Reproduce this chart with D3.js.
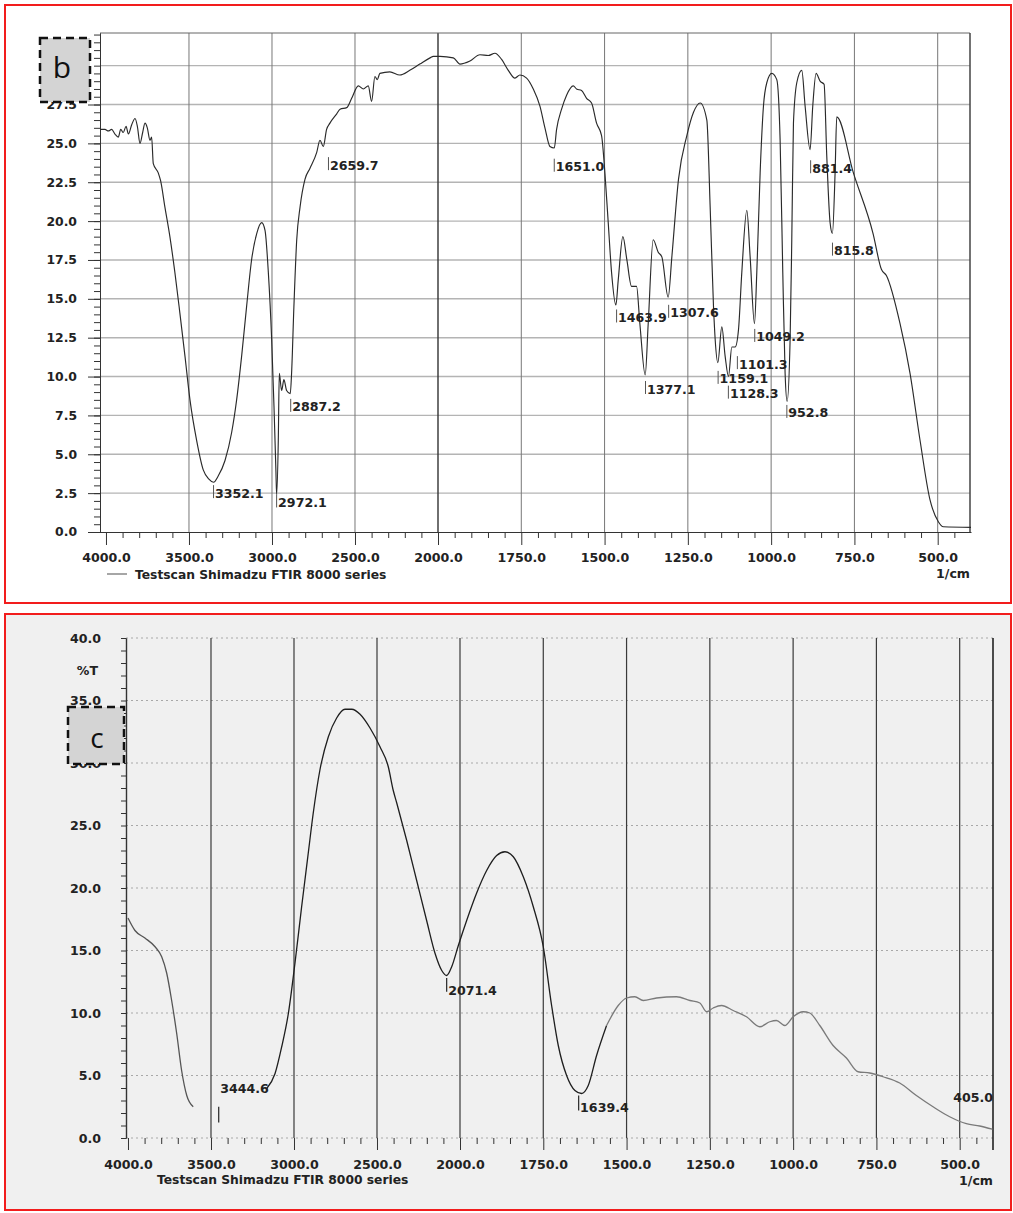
<!DOCTYPE html>
<html>
<head>
<meta charset="utf-8">
<script src="https://cdn.jsdelivr.net/npm/d3@7"></script>
<style>
body { margin: 0; background: #fff; }
svg { display: block; }
.axis text { font-family: "DejaVu Sans", sans-serif; font-weight: bold; fill: #222; }
.axis path, .axis line { stroke: #333; }
.pk { font-family: "DejaVu Sans", sans-serif; font-weight: bold; font-size: 12.6px; fill: #222; }
</style>
</head>
<body>
<svg width="1013" height="1213"></svg>
<script>
var bWn = [4036, 4006, 3986, 3966, 3946, 3926, 3911, 3896, 3879, 3865, 3845, 3825, 3811, 3795, 3779, 3765, 3751, 3735, 3725,
    3715, 3685, 3671, 3645, 3615, 3585, 3555, 3524, 3494, 3454, 3414, 3380, 3352, 3324, 3283, 3243, 3213, 3183, 3153, 3123,
    3092, 3062, 3042, 3022, 3002, 2988, 2976, 2972, 2962, 2956, 2942, 2928, 2912, 2890, 2882, 2868, 2851, 2831, 2801, 2771,
    2731, 2711, 2691, 2671, 2651, 2610, 2590, 2550, 2520, 2480, 2450, 2420, 2400, 2380, 2366, 2350, 2290, 2230, 2170, 2110,
    2048, 2028, 1994, 1954, 1934, 1904, 1874, 1849, 1829, 1809, 1789, 1769, 1754, 1734, 1714, 1694, 1679, 1664, 1651, 1644,
    1629, 1614, 1594, 1584, 1569, 1554, 1539, 1524, 1509, 1499, 1489, 1479, 1466, 1459, 1445, 1433, 1419, 1404, 1394, 1378,
    1369, 1354, 1339, 1328, 1309, 1298, 1278, 1253, 1233, 1213, 1193, 1183, 1173, 1168, 1160, 1148, 1138, 1128, 1118, 1108,
    1098, 1088, 1073, 1063, 1050, 1043, 1033, 1023, 1013, 998, 983, 973, 965, 958, 952, 943, 938, 933, 923, 908, 898, 883,
    875, 865, 853, 841, 833, 823, 816, 808, 803, 753, 694, 669, 654, 613, 583, 553, 523, 498, 483, 400];
var bT = [25.9, 25.9, 25.8, 25.9, 25.6, 25.4, 25.9, 25.7, 26.1, 25.6, 26.2, 26.6, 26.1, 25.0, 25.7, 26.3, 26.0, 25.2, 25.4,
    23.7, 23.1, 22.6, 20.9, 19.0, 16.7, 14.1, 11.3, 8.5, 5.9, 4.0, 3.4, 3.2, 3.6, 4.6, 6.4, 8.5, 11.3, 14.5, 17.5,
    19.2, 19.9, 19.4, 16.7, 12.4, 8.1, 3.8, 2.4, 5.9, 10.2, 9.1, 9.8, 9.1, 8.9, 10.2, 14.5, 18.8, 20.9, 22.7, 23.4,
    24.4, 25.2, 24.8, 25.9, 26.3, 26.9, 27.2, 27.3, 27.9, 28.7, 28.5, 28.7, 27.7, 29.3, 29.1, 29.5, 29.6, 29.4, 29.7, 30.1,
    30.5, 30.6, 30.6, 30.5, 30.1, 30.3, 30.7, 30.65, 30.8, 30.4, 29.7, 29.2, 29.4, 29.2, 28.5, 27.4, 26.0, 24.8, 24.7, 25.9,
    27.2, 28.1, 28.7, 28.5, 28.4, 27.9, 27.6, 26.3, 25.5, 23.1, 19.9, 16.7, 14.6, 16.2, 19.0, 17.5, 15.8, 15.8, 13.4, 10.1,
    13.4, 18.8, 18.0, 17.7, 15.1, 17.7, 22.7, 25.5, 27.0, 27.6, 26.5, 20.9, 14.5, 12.4, 10.9, 13.2, 11.3, 10.0, 11.9, 11.9,
    13.0, 16.7, 20.7, 17.7, 13.4, 16.7, 23.1, 27.4, 28.9, 29.5, 29.1, 25.2, 16.7, 10.2, 8.4, 12.4, 18.8, 26.3, 28.9, 29.7, 27.4, 24.6,
    27.4, 29.5, 29.0, 28.8, 24.2, 19.9, 19.2, 23.1, 26.7, 23.1, 19.2, 16.9, 16.5, 13.4, 10.2, 5.9, 2.06, 0.66, 0.34, 0.3];

// pics annotés du spectre b et niveau (%T) de leur étiquette
var bPeakWn = [3352.1, 2972.1, 2887.2, 2659.7, 1651.0, 1463.9, 1377.1, 1307.6, 1159.1, 1128.3, 1101.3, 1049.2, 952.8, 881.4, 815.8];
var bPeakLab = [2.5, 1.9, 8.05, 23.6, 23.5, 13.8, 9.2, 14.1, 9.85, 8.9, 10.8, 12.55, 7.66, 23.4, 18.1];

var cWn = [4000, 3958, 3898, 3837, 3797, 3767, 3737, 3707, 3677, 3646, 3607, 3400,
    3164, 3114, 3074, 3034, 2994, 2954, 2914, 2884, 2843, 2793, 2743, 2693, 2652, 2602, 2542, 2482, 2432, 2402, 2381, 2321,
    2261, 2201, 2151, 2110, 2080, 2050, 2010, 1980, 1950, 1920, 1890, 1865, 1840, 1810, 1780, 1750, 1725, 1705, 1680, 1655,
    1635, 1615, 1590, 1560, 1525, 1500, 1475, 1450, 1410, 1350, 1310, 1280, 1260, 1240, 1215, 1180, 1140, 1100, 1070, 1050,
    1025, 1000, 970, 950, 920, 880, 840, 805, 770, 730, 680, 630, 580, 530, 480, 440, 402];
var cT = [17.6, 16.6, 16.0, 15.3, 14.5, 13.2, 11.0, 8.4, 5.4, 3.4, 2.5, null,
    3.96, 5.16, 7.3, 9.96, 14.0, 18.5, 22.8, 26.0, 29.5, 32.1, 33.6, 34.3, 34.3, 33.9, 32.8, 31.3, 29.7, 27.8, 26.8, 23.8,
    20.6, 17.4, 14.8, 13.4, 13.0, 13.7, 15.4, 17.4, 19.6, 21.4, 22.6, 22.9, 22.5, 20.9, 18.5, 15.3, 10.6, 7.4, 5.0, 3.8,
    3.56, 4.2, 6.6, 9.0, 10.6, 11.2, 11.3, 11.0, 11.2, 11.3, 11.0, 10.8, 10.1, 10.4, 10.6, 10.2, 9.7, 8.9, 9.3, 9.4,
    9.0, 9.7, 10.1, 10.0, 9.0, 7.4, 6.4, 5.3, 5.2, 4.9, 4.4, 3.4, 2.5, 1.7, 1.15, 0.96, 0.7];

// pics annotés du spectre c : niveau de l'étiquette et du trait repère (%T)
var cPeakWn = [3444.6, 2071.4, 1639.4, 405.0];
var cPeakLab = [3.98, 11.8, 2.46, 3.25];
var cTickTop = [2.5, 12.8, 3.4, null];
var cTickBot = [1.25, 11.7, 2.2, null];

// graduations
var xMajor = [4000, 3500, 3000, 2500, 2000, 1750, 1500, 1250, 1000, 750, 500];
var bYMajor = [0, 2.5, 5, 7.5, 10, 12.5, 15, 17.5, 20, 22.5, 25, 27.5];
var bYGrid = [2.5, 5, 7.5, 10, 12.5, 15, 17.5, 20, 22.5, 25, 27.5, 30];
var cYMajor = [0, 5, 10, 15, 20, 25, 30, 35, 40];

var legendTxt = "Testscan Shimadzu FTIR 8000 series";
var fmt = d3.format(".1f");

var svg = d3.select("svg");

function minorX(a) {
    // tous les 100 entre 4000 et 2000, tous les 50 ensuite
    return d3.range(4000, 2000, -100).concat(d3.range(2000, 400, -50)).filter(function(v) {
        return a.indexOf(v) < 0;
    });
}

function zip(w, t) {
    return w.map(function(v, i) { return [v, t[i]]; });
}

/* ------------------- panneau b ------------------- */
svg.append("rect").attr("x", 5).attr("y", 5).attr("width", 1006).attr("height", 598)
    .attr("fill", "#fff").attr("stroke", "#f21d1d").attr("stroke-width", 2);

var xb = d3.scaleLinear().domain([4036, 2000, 400]).range([100, 438, 971]);
var yb = d3.scaleLinear().domain([0, 32.1]).range([532, 33]);
var gb = svg.append("g");

// grille
gb.selectAll(".hg").data(bYGrid).enter().append("line")
    .attr("x1", 100).attr("x2", 970)
    .attr("y1", function(d) { return yb(d); }).attr("y2", function(d) { return yb(d); })
    .attr("stroke", "#b4b4b4").attr("stroke-width", 1.4);
gb.selectAll(".vg").data(xMajor.slice(1)).enter().append("line")
    .attr("x1", function(d) { return xb(d); }).attr("x2", function(d) { return xb(d); })
    .attr("y1", 33).attr("y2", 532)
    .attr("stroke", function(d) { return d === 2000 ? "#333" : "#777"; })
    .attr("stroke-width", function(d) { return d === 2000 ? 1.4 : 1; });
gb.append("line").attr("x1", 100).attr("x2", 970).attr("y1", 33).attr("y2", 33).attr("stroke", "#666");
gb.append("line").attr("x1", 970).attr("x2", 970).attr("y1", 33).attr("y2", 532).attr("stroke", "#444").attr("stroke-width", 1.5);

// axes
gb.append("g").attr("class", "axis").attr("transform", "translate(0,532)")
    .call(d3.axisBottom(xb).tickValues(minorX(xMajor)).tickSize(6).tickSizeOuter(0).tickFormat(""));
var axb = gb.append("g").attr("class", "axis").attr("transform", "translate(0,532)")
    .call(d3.axisBottom(xb).tickValues(xMajor).tickSize(13).tickSizeOuter(0).tickPadding(8).tickFormat(fmt));
axb.select(".domain").attr("d", "M90,0.5H970");
axb.selectAll("text").style("font-size", "12.6px");
gb.append("g").attr("class", "axis").attr("transform", "translate(100,0)")
    .call(d3.axisLeft(yb).tickValues(d3.range(0, 32.01, 0.5)).tickSize(6).tickSizeOuter(0).tickFormat(""));
var ayb = gb.append("g").attr("class", "axis").attr("transform", "translate(100,0)")
    .call(d3.axisLeft(yb).tickValues(bYMajor).tickSize(12).tickSizeOuter(0).tickPadding(11).tickFormat(fmt));
ayb.selectAll("text").style("font-size", "12.4px");

gb.append("text").attr("class", "pk").attr("x", 970).attr("y", 577.5).attr("text-anchor", "end").text("1/cm");
gb.append("line").attr("x1", 107).attr("x2", 127).attr("y1", 574).attr("y2", 574).attr("stroke", "#888").attr("stroke-width", 1.5);
gb.append("text").attr("class", "pk").attr("x", 135).attr("y", 578.5).style("font-size", "12.3px").text(legendTxt);

// spectre
var lineB = d3.line()
    .x(function(d) { return xb(d[0]); })
    .y(function(d) { return yb(d[1]); })
    .curve(d3.curveMonotoneX);
gb.append("path").datum(zip(bWn, bT)).attr("d", lineB)
    .attr("fill", "none").attr("stroke", "#2a2a2a").attr("stroke-width", 1.15);

// étiquettes des pics
var pkb = gb.selectAll(".pkb").data(bPeakWn).enter().append("g");
pkb.append("line")
    .attr("x1", function(d) { return xb(d); }).attr("x2", function(d) { return xb(d); })
    .attr("y1", function(d, i) { return yb(bPeakLab[i]) - 8; })
    .attr("y2", function(d, i) { return yb(bPeakLab[i]) + 5; })
    .attr("stroke", "#555");
pkb.append("text").attr("class", "pk")
    .attr("x", function(d) { return xb(d) + 1.5; })
    .attr("y", function(d, i) { return yb(bPeakLab[i]); })
    .attr("dy", "0.36em")
    .text(function(d) { return fmt(d); });

// encadré "b"
svg.append("rect").attr("x", 40).attr("y", 38).attr("width", 50).attr("height", 64)
    .attr("fill", "#d4d4d4").attr("stroke", "#111").attr("stroke-width", 2.5).attr("stroke-dasharray", "8,5");
svg.append("text").attr("x", 62).attr("y", 78).attr("text-anchor", "middle")
    .style("font-family", "'Open Sans', sans-serif").style("font-size", "30px").attr("fill", "#111").text("b");

/* ------------------- panneau c ------------------- */
svg.append("rect").attr("x", 5).attr("y", 614).attr("width", 1006).attr("height", 596)
    .attr("fill", "#f0f0f0").attr("stroke", "#f21d1d").attr("stroke-width", 2);

var xc = d3.scaleLinear().domain([4012, 2000, 400]).range([126, 460, 993]);
var yc = d3.scaleLinear().domain([0, 40]).range([1138, 638]);
var gc = svg.append("g");

gc.selectAll(".hg").data(cYMajor).enter().append("line")
    .attr("x1", 126).attr("x2", 993)
    .attr("y1", function(d) { return yc(d); }).attr("y2", function(d) { return yc(d); })
    .attr("stroke", "#a8a8a8").attr("stroke-width", 1.2).attr("stroke-dasharray", "2,3");
gc.selectAll(".vg").data(xMajor.slice(1)).enter().append("line")
    .attr("x1", function(d) { return xc(d); }).attr("x2", function(d) { return xc(d); })
    .attr("y1", 638).attr("y2", 1138)
    .attr("stroke", "#3a3a3a").attr("stroke-width", 1.2);
gc.append("line").attr("x1", 993).attr("x2", 993).attr("y1", 638).attr("y2", 1150).attr("stroke", "#222").attr("stroke-width", 1.6);

gc.append("g").attr("class", "axis").attr("transform", "translate(0,1138)")
    .call(d3.axisBottom(xc).tickValues(minorX(xMajor)).tickSize(6).tickSizeOuter(0).tickFormat(""))
    .select(".domain").remove();
var axc = gc.append("g").attr("class", "axis").attr("transform", "translate(0,1138)")
    .call(d3.axisBottom(xc).tickValues(xMajor).tickSize(12).tickSizeOuter(0).tickPadding(10.5).tickFormat(fmt));
axc.select(".domain").remove();
axc.selectAll("text").style("font-size", "12.6px");
gc.append("g").attr("class", "axis").attr("transform", "translate(126,0)")
    .call(d3.axisLeft(yc).tickValues(d3.range(0, 40.01, 1)).tickSize(5).tickSizeOuter(0).tickFormat(""))
    .selectAll("line").attr("stroke", "#888");
var ayc = gc.append("g").attr("class", "axis").attr("transform", "translate(126,0)")
    .call(d3.axisLeft(yc).tickValues(cYMajor).tickSize(0).tickSizeOuter(0).tickPadding(25).tickFormat(fmt));
ayc.select(".domain").attr("stroke", "#111").attr("stroke-width", 1.4);
ayc.selectAll("text").style("font-size", "12.6px");

gc.append("text").attr("class", "pk").attr("x", 98).attr("y", 675).attr("text-anchor", "end").text("%T");
gc.append("text").attr("class", "pk").attr("x", 993).attr("y", 1185).attr("text-anchor", "end").text("1/cm");
gc.append("text").attr("class", "pk").attr("x", 157).attr("y", 1184).style("font-size", "12.3px").text(legendTxt);

// spectre c, en trois morceaux d'encre différente
var cData = zip(cWn, cT);
var cParts = [
    { lo: 3500, hi: 4100, col: "#555" },
    { lo: 1560, hi: 3200, col: "#1e1e1e" },
    { lo: 300, hi: 1560, col: "#7a7a7a" }
];
cParts.forEach(function(p) {
    var l = d3.line()
        .defined(function(d) { return d[1] !== null && d[0] >= p.lo && d[0] <= p.hi; })
        .x(function(d) { return xc(d[0]); })
        .y(function(d) { return yc(d[1]); })
        .curve(d3.curveMonotoneX);
    gc.append("path").datum(cData).attr("d", l)
        .attr("fill", "none").attr("stroke", p.col).attr("stroke-width", 1.3);
});

var pkc = gc.selectAll(".pkc").data(cPeakWn).enter().append("g");
pkc.filter(function(d, i) { return cTickTop[i] !== null; }).append("line")
    .attr("x1", function(d) { return xc(d) - 1.5; }).attr("x2", function(d) { return xc(d) - 1.5; })
    .attr("y1", function(d) { return yc(cTickTop[cPeakWn.indexOf(d)]); })
    .attr("y2", function(d) { return yc(cTickBot[cPeakWn.indexOf(d)]); })
    .attr("stroke", "#333").attr("stroke-width", 1.3);
pkc.append("text").attr("class", "pk")
    .attr("x", function(d, i) { return i === 3 ? 993 : xc(d); })
    .attr("y", function(d, i) { return yc(cPeakLab[i]); })
    .attr("dy", "0.36em")
    .attr("text-anchor", function(d, i) { return i === 3 ? "end" : "start"; })
    .text(function(d) { return fmt(d); });

// encadré "c"
svg.append("rect").attr("x", 68).attr("y", 707).attr("width", 56).attr("height", 57)
    .attr("fill", "#d4d4d4").attr("stroke", "#111").attr("stroke-width", 2.5).attr("stroke-dasharray", "8,5");
svg.append("text").attr("x", 97).attr("y", 748).attr("text-anchor", "middle")
    .style("font-family", "'Open Sans', sans-serif").style("font-size", "28px").attr("fill", "#111").text("c");
</script>
</body>
</html>
